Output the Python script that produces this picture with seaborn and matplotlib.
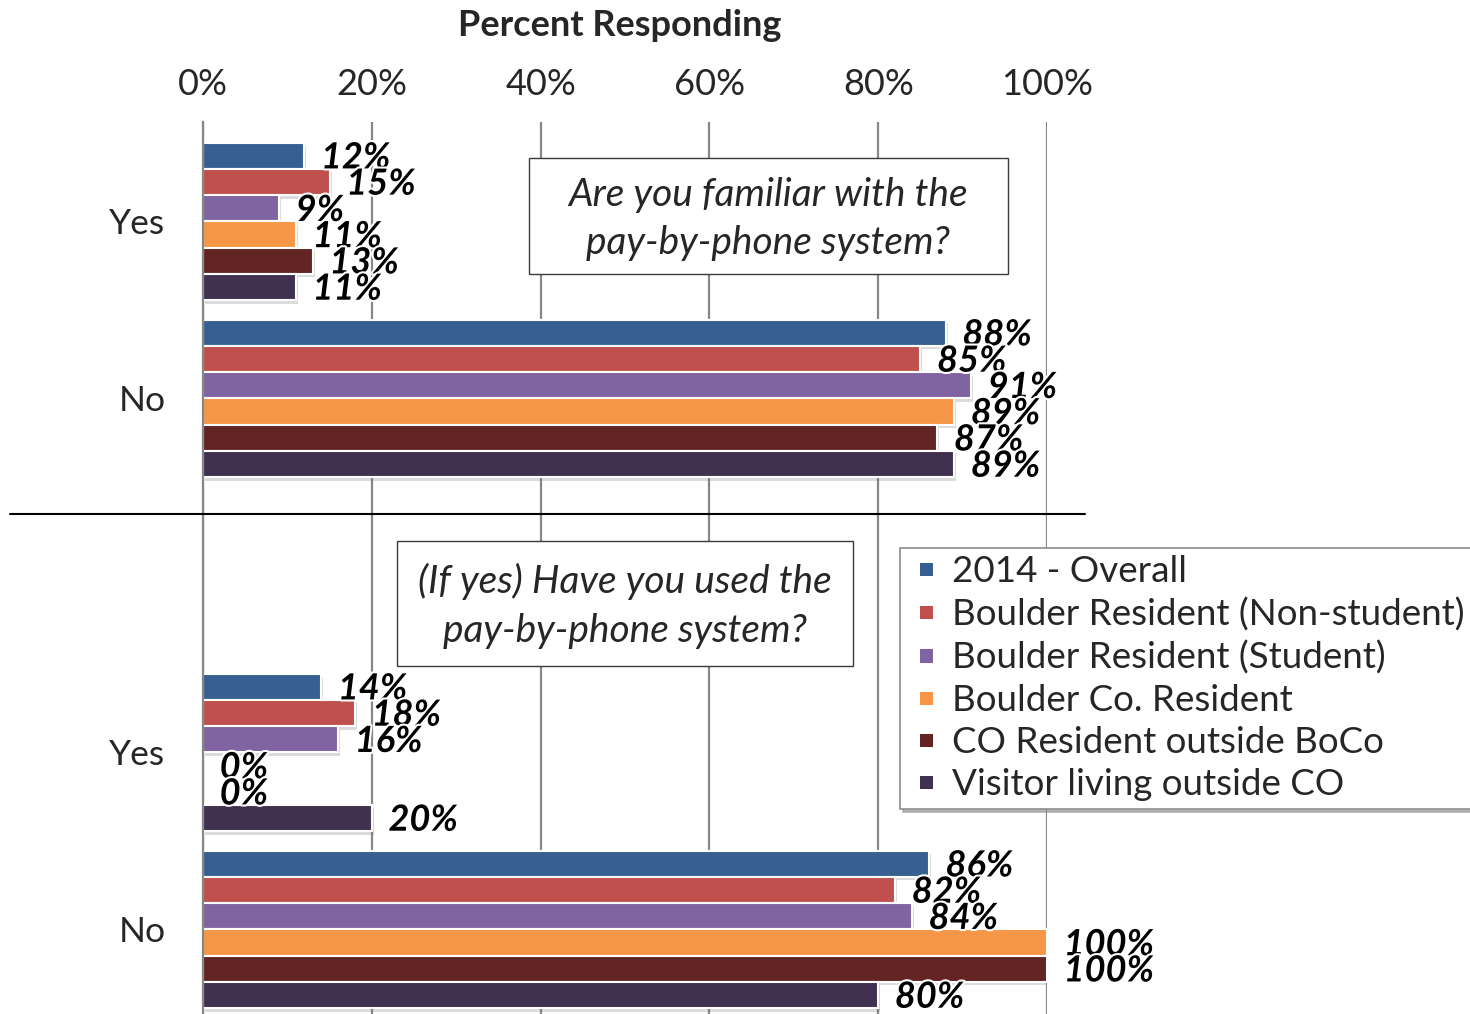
import matplotlib
matplotlib.use("Agg")
import matplotlib.pyplot as plt
import matplotlib.patheffects as pe
from matplotlib.patches import Rectangle
from matplotlib.lines import Line2D
from matplotlib.legend_handler import HandlerPatch
import numpy as np
import pandas as pd
import seaborn as sns

# Respondent groups and their colours
groups = ["2014 - Overall", "Boulder Resident (Non-student)",
          "Boulder Resident (Student)", "Boulder Co. Resident",
          "CO Resident outside BoCo", "Visitor living outside CO"]
colors = ["#376092", "#C0504D", "#8064A2", "#F79646", "#632523", "#403151"]

# Percent responding, per group
familiar_yes = [12, 15, 9, 11, 13, 11]
familiar_no = [88, 85, 91, 89, 87, 89]
used_yes = [14, 18, 16, 0, 0, 20]
used_no = [86, 82, 84, 100, 100, 80]

# Category rows (one blank row separates the two questions)
rows = ["Q1 Yes", "Q1 No", "blank", "Q2 Yes", "Q2 No"]
row_labels = ["Yes", "No", "", "Yes", "No"]
x_ticks = [0, 20, 40, 60, 80, 100]
x_tick_labels = ["0%", "20%", "40%", "60%", "80%", "100%"]

q1_text = "Are you familiar with the\npay-by-phone system?"
q2_text = "(If yes) Have you used the\npay-by-phone system?"

records = []
for row, vals in zip(["Q1 Yes", "Q1 No", "Q2 Yes", "Q2 No"],
                     [familiar_yes, familiar_no, used_yes, used_no]):
    for g, v in zip(groups, vals):
        records.append({"row": row, "group": g, "pct": v})
df = pd.DataFrame(records)

sns.set_theme(style="white")
plt.rcParams["font.family"] = ["Lato", "DejaVu Sans"]

W, H = 1470, 1014
fig = plt.figure(figsize=(W / 100, H / 100), dpi=100)
ax = fig.add_axes([203 / W, 1 - 1018 / H, (1047 - 203) / W, (1018 - 122) / H])

grid_c = "#878787"

sns.barplot(data=df, y="row", x="pct", hue="group", order=rows,
            hue_order=groups, palette=colors, orient="h", width=0.89,
            dodge=True, edgecolor="white", linewidth=1.5, saturation=1,
            errorbar=None, ax=ax)

ax.set_xlim(0, 100)
ax.set_ylim(4.5, -0.562)
ax.set_xlabel("")
ax.set_ylabel("")

# Top percentage axis
ax.xaxis.tick_top()
ax.set_xticks(x_ticks)
ax.set_xticklabels(x_tick_labels, fontsize=26)
ax.tick_params(axis="x", length=0, pad=15)
ax.grid(axis="x", color=grid_c, lw=1.6)
ax.set_axisbelow(True)

# Category axis: labels at centres, tick marks at the boundaries
ax.set_yticks(range(len(rows)))
ax.set_yticklabels(row_labels, fontsize=25.5)
ax.tick_params(axis="y", which="major", length=0, pad=27)
ax.set_yticks(np.arange(-0.5, len(rows), 1.0), minor=True)
ax.tick_params(axis="y", which="minor", length=18, direction="inout",
               color=grid_c, width=1.5)
for side in ["top", "right", "bottom"]:
    ax.spines[side].set_visible(False)
ax.spines["left"].set_color(grid_c)
ax.spines["left"].set_linewidth(1.6)

# Value labels and soft shadows on the bars
for container in ax.containers:
    for p in container:
        w = p.get_width()
        if not np.isfinite(w):
            continue
        p.set_path_effects([pe.SimplePatchShadow(offset=(1.5, -2.5), shadow_rgbFace="0.45", alpha=0.25),
                            pe.Normal()])
        yc = p.get_y() + p.get_height() / 2
        ax.annotate(f"{w:.0f}%", xy=(w, yc), xytext=(12, -1.5),
                    textcoords="offset points", ha="left", va="center",
                    fontsize=26, fontweight="bold", fontstyle="italic",
                    color="black", annotation_clip=False, zorder=6,
                    path_effects=[pe.withStroke(linewidth=3, foreground="white")])


# Legend with small square keys placed at the right of the handle box
def square_key(legend, orig_handle, xdescent, ydescent, width, height, fontsize):
    s = 0.36 * fontsize
    return Rectangle((-xdescent + width - s, -ydescent + (height - s) / 2), s, s)


handles, labels = ax.get_legend_handles_labels()
if ax.get_legend() is not None:
    ax.get_legend().remove()
leg = fig.legend(handles, labels, loc="upper left",
                 bbox_to_anchor=(900 / W, 1 - 548 / H), frameon=True,
                 fancybox=False, shadow={"color": "0.55", "alpha": 0.6},
                 fontsize=26.5, handlelength=0.7, handleheight=0.7,
                 handletextpad=0.5, labelspacing=0.25, borderpad=0.2,
                 borderaxespad=0,
                 handler_map={h: HandlerPatch(patch_func=square_key) for h in handles})
leg.get_frame().set_edgecolor("#8c8c8c")
leg.get_frame().set_linewidth(1.2)
for h in leg.legend_handles:
    h.set_linewidth(0)

# Question boxes
fig.add_artist(Rectangle((529 / W, 1 - 274 / H), (1008 - 529) / W, (274 - 158) / H,
                         transform=fig.transFigure, fc="white", ec="#3a3a3a", lw=1.0, zorder=5))
fig.text(768 / W, 1 - 219 / H, q1_text, ha="center", va="center", fontsize=28,
         fontstyle="italic", linespacing=1.42, zorder=6)
fig.add_artist(Rectangle((397 / W, 1 - 666 / H), (853 - 397) / W, (666 - 541) / H,
                         transform=fig.transFigure, fc="white", ec="#3a3a3a", lw=1.0, zorder=5))
fig.text(625 / W, 1 - 606 / H, q2_text, ha="center", va="center", fontsize=28,
         fontstyle="italic", linespacing=1.42, zorder=6)

# Divider between the two questions
fig.add_artist(Line2D([10 / W, 1085 / W], [1 - 514 / H, 1 - 514 / H],
                      color="black", lw=1.5))

# Axis title
fig.text(620 / W, 1 - 26 / H, "Percent Responding", ha="center", va="center",
         fontsize=26, fontweight="bold")

fig.savefig("out.png", dpi=100)
